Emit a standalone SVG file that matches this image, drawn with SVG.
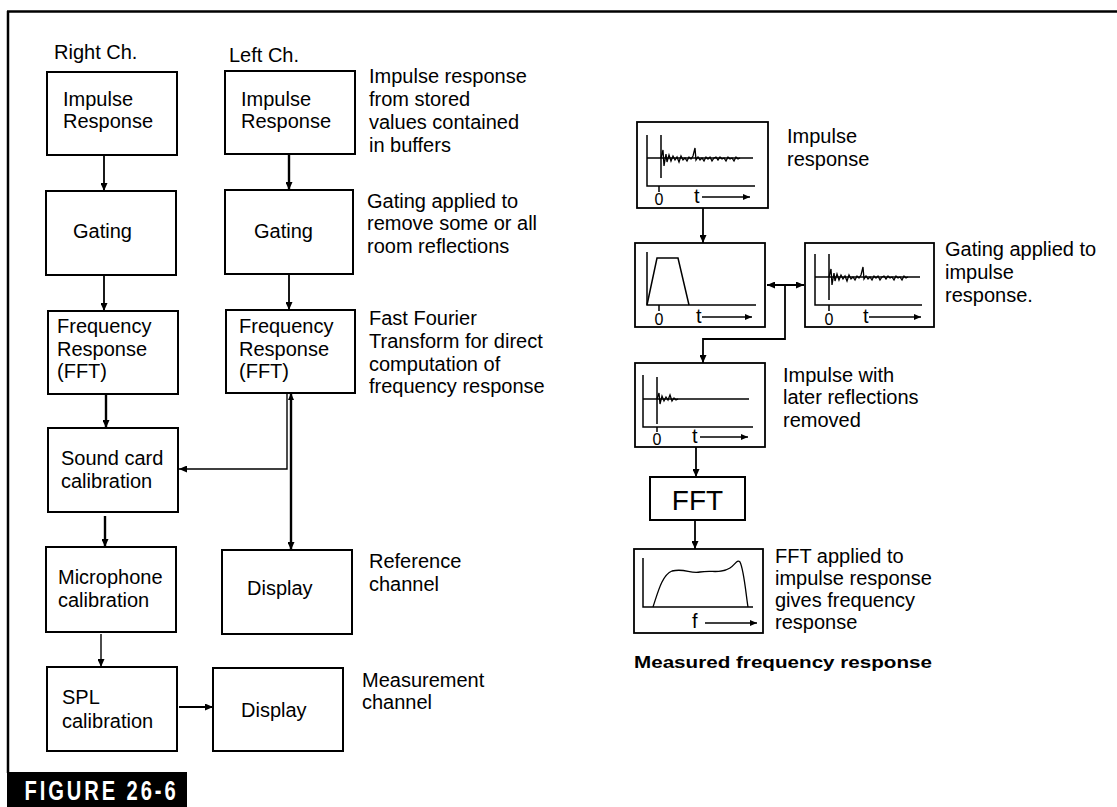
<svg xmlns="http://www.w3.org/2000/svg" width="1117" height="807" viewBox="0 0 1117 807">
<style>
text{font-family:"Liberation Sans",Arial,sans-serif;fill:#000}
.lbl{font-size:20px}
.box{fill:#fff;stroke:#000;stroke-width:2}
.gbox{fill:#fff;stroke:#000;stroke-width:1.8}
.ln{fill:none;stroke:#000;stroke-width:1.8}
.thk{fill:none;stroke:#000;stroke-width:2.4}
.thn{fill:none;stroke:#000;stroke-width:1.4}
.ax{fill:none;stroke:#000;stroke-width:1.5}
.sig{fill:none;stroke:#000;stroke-width:1.3}
.t{font-size:20px}
.zero{font-size:16px}
</style>
<defs>
<marker id="ah" viewBox="0 0 8 7" refX="8" refY="3.5" markerWidth="8" markerHeight="7" markerUnits="userSpaceOnUse" orient="auto-start-reverse">
<path d="M0,0 L8,3.5 L0,7 z" fill="#000"/>
</marker>
<marker id="sh" viewBox="0 0 7 6" refX="7" refY="3" markerWidth="7" markerHeight="6" markerUnits="userSpaceOnUse" orient="auto-start-reverse">
<path d="M0,0 L7,3 L0,6 z" fill="#000"/>
</marker>
</defs>

<!-- frame -->
<g id="frame">
<line x1="7" y1="11.5" x2="1117" y2="11.5" stroke="#000" stroke-width="2.5"/>
<line x1="8" y1="11" x2="8" y2="773" stroke="#000" stroke-width="2.5"/>
<rect x="7" y="772" width="180" height="35" fill="#000"/>
<text x="34" y="800" transform="scale(0.72,1)" font-size="28" font-weight="bold" fill="#fff" style="fill:#fff" textLength="210" lengthAdjust="spacing">FIGURE 26-6</text>
</g>

<!-- column headers -->
<text class="lbl" x="54" y="59">Right Ch.</text>
<text class="lbl" x="229" y="62">Left Ch.</text>

<!-- right channel nodes -->
<g id="r-impulse"><rect class="box" x="47" y="72" width="130" height="83"/><text class="lbl" x="63" y="106">Impulse</text><text class="lbl" x="63" y="128">Response</text></g>
<g id="r-gating"><rect class="box" x="46" y="191" width="130" height="84"/><text class="lbl" x="73" y="238">Gating</text></g>
<g id="r-freq"><rect class="box" x="48" y="311" width="130" height="83"/><text class="lbl" x="57" y="333">Frequency</text><text class="lbl" x="57" y="356">Response</text><text class="lbl" x="57" y="378">(FFT)</text></g>
<g id="r-soundcard"><rect class="box" x="48" y="428" width="130" height="84"/><text class="lbl" x="61" y="465">Sound card</text><text class="lbl" x="61" y="488">calibration</text></g>
<g id="r-mic"><rect class="box" x="46" y="547" width="130" height="85"/><text class="lbl" x="58" y="584">Microphone</text><text class="lbl" x="58" y="607">calibration</text></g>
<g id="r-spl"><rect class="box" x="47" y="667" width="130" height="84"/><text class="lbl" x="62" y="704">SPL</text><text class="lbl" x="62" y="728">calibration</text></g>
<g id="m-display"><rect class="box" x="213" y="668" width="130" height="83"/><text class="lbl" x="241" y="717">Display</text></g>

<!-- left channel nodes -->
<g id="l-impulse"><rect class="box" x="225" y="71" width="130" height="83"/><text class="lbl" x="241" y="106">Impulse</text><text class="lbl" x="241" y="128">Response</text></g>
<g id="l-gating"><rect class="box" x="225" y="190" width="128" height="84"/><text class="lbl" x="254" y="238">Gating</text></g>
<g id="l-freq"><rect class="box" x="226" y="310" width="129" height="83"/><text class="lbl" x="239" y="333">Frequency</text><text class="lbl" x="239" y="356">Response</text><text class="lbl" x="239" y="378">(FFT)</text></g>
<g id="l-display"><rect class="box" x="222" y="550" width="130" height="84"/><text class="lbl" x="247" y="595">Display</text></g>

<!-- annotations -->
<g id="notes">
<text class="lbl" x="369" y="83">Impulse response</text>
<text class="lbl" x="369" y="106">from stored</text>
<text class="lbl" x="369" y="129">values contained</text>
<text class="lbl" x="369" y="152">in buffers</text>
<text class="lbl" x="367" y="208">Gating applied to</text>
<text class="lbl" x="367" y="230">remove some or all</text>
<text class="lbl" x="367" y="253">room reflections</text>
<text class="lbl" x="369" y="325">Fast Fourier</text>
<text class="lbl" x="369" y="348">Transform for direct</text>
<text class="lbl" x="369" y="371">computation of</text>
<text class="lbl" x="369" y="393">frequency response</text>
<text class="lbl" x="369" y="568">Reference</text>
<text class="lbl" x="369" y="591">channel</text>
<text class="lbl" x="362" y="687">Measurement</text>
<text class="lbl" x="362" y="709">channel</text>
</g>

<!-- right panel graphs -->
<g id="g-impulse">
<rect class="gbox" x="637" y="122" width="131" height="86"/>
<polyline class="ax" points="647,135 647,186 755,186"/>
<line class="ax" x1="647" y1="158" x2="753" y2="158"/>
<line class="ax" x1="661" y1="135" x2="661" y2="178"/>
<polyline class="sig" points="661,158 663,150 664,166 666,154 667,162 669,155 671,161 673,156 675,160 677,157 679,162 681,156 683,160 685,158 687,161 689,157 691,159 693,156 695,148 696,160 698,157 700,160 702,158 704,161 706,157 708,159 710,157 712,161 714,158 716,157 718,160 720,157 722,159 724,158 726,161 728,157 730,159 732,158 734,161 736,157 738,159 740,158"/>
<line class="ax" x1="659" y1="186" x2="659" y2="192"/>
<text class="zero" x="659" y="205" text-anchor="middle">0</text>
<text class="t" x="694" y="203">t</text>
<line class="ax" x1="702" y1="197" x2="750" y2="197" marker-end="url(#sh)"/>
</g>
<text class="lbl" x="787" y="143">Impulse</text>
<text class="lbl" x="787" y="166">response</text>

<g id="g-gate">
<rect class="gbox" x="635" y="243" width="130" height="84"/>
<polyline class="ax" points="647,252 647,305 756,305"/>
<polyline class="ax" points="647,305 657,258 678,258 689,305"/>
<line class="ax" x1="659" y1="305" x2="659" y2="311"/>
<text class="zero" x="659" y="325" text-anchor="middle">0</text>
<text class="t" x="696" y="323">t</text>
<line class="ax" x1="702" y1="317" x2="752" y2="317" marker-end="url(#sh)"/>
</g>

<g id="g-gated">
<rect class="gbox" x="805" y="243" width="129" height="84"/>
<polyline class="ax" points="815,254 815,305 922,305"/>
<line class="ax" x1="815" y1="277" x2="920" y2="277"/>
<line class="ax" x1="829" y1="254" x2="829" y2="300"/>
<polyline class="sig" transform="translate(168,119)" points="661,158 663,150 664,166 666,154 667,162 669,155 671,161 673,156 675,160 677,157 679,162 681,156 683,160 685,158 687,161 689,157 691,159 693,156 695,148 696,160 698,157 700,160 702,158 704,161 706,157 708,159 710,157 712,161 714,158 716,157 718,160 720,157 722,159 724,158 726,161 728,157 730,159 732,158 734,161 736,157 738,159 740,158"/>
<line class="ax" x1="829" y1="305" x2="829" y2="311"/>
<text class="zero" x="829" y="325" text-anchor="middle">0</text>
<text class="t" x="863" y="323">t</text>
<line class="ax" x1="869" y1="317" x2="921" y2="317" marker-end="url(#sh)"/>
</g>
<text class="lbl" x="945" y="256">Gating applied to</text>
<text class="lbl" x="945" y="279">impulse</text>
<text class="lbl" x="945" y="302">response.</text>

<g id="g-removed">
<rect class="gbox" x="635" y="363" width="130" height="84"/>
<polyline class="ax" points="643,375 643,427 753,427"/>
<line class="ax" x1="643" y1="399" x2="749" y2="399"/>
<line class="ax" x1="657" y1="377" x2="657" y2="424"/>
<polyline class="sig" points="657,399 659,393 660,404 662,396 664,401 666,397 668,400 670,395 672,401 674,398 676,400 678,399"/>
<line class="ax" x1="657" y1="427" x2="657" y2="432"/>
<text class="zero" x="657" y="445" text-anchor="middle">0</text>
<text class="t" x="692" y="443">t</text>
<line class="ax" x1="700" y1="437" x2="748" y2="437" marker-end="url(#sh)"/>
</g>
<text class="lbl" x="783" y="382">Impulse with</text>
<text class="lbl" x="783" y="404">later reflections</text>
<text class="lbl" x="783" y="427">removed</text>

<g id="fft">
<rect class="box" x="650" y="477" width="95" height="43"/>
<text x="697.5" y="510" font-size="28" text-anchor="middle">FFT</text>
</g>

<g id="g-freq">
<rect class="gbox" x="634" y="549" width="129" height="84"/>
<polyline class="ax" points="643,558 643,607 753,607"/>
<path class="sig" d="M653,607 C658,592 662,575 672,571 C685,568 690,574 700,572 C712,570 720,574 730,568 C735,565 737,559 740,562 C744,570 746,595 748,607"/>
<text class="t" x="692" y="628">f</text>
<line class="ax" x1="705" y1="623" x2="757" y2="623" marker-end="url(#sh)"/>
</g>
<text class="lbl" x="775" y="563">FFT applied to</text>
<text class="lbl" x="775" y="585">impulse response</text>
<text class="lbl" x="775" y="607">gives frequency</text>
<text class="lbl" x="775" y="629">response</text>

<text x="634" y="668" font-size="17" font-weight="900" textLength="298" lengthAdjust="spacingAndGlyphs">Measured frequency response</text>

<!-- connectors -->
<g id="connectors">
<line class="ln" x1="104" y1="155" x2="104" y2="191" marker-end="url(#ah)"/>
<line class="ln" x1="104" y1="275" x2="104" y2="311" marker-end="url(#ah)"/>
<line class="thk" x1="106" y1="394" x2="106" y2="428" marker-end="url(#ah)"/>
<line class="thk" x1="105" y1="516" x2="105" y2="547" marker-end="url(#ah)"/>
<line class="thn" x1="101" y1="634" x2="101" y2="667" marker-end="url(#ah)"/>
<line class="ln" x1="179" y1="707" x2="213" y2="707" marker-end="url(#ah)"/>
<line class="thk" x1="289" y1="154" x2="289" y2="190" marker-end="url(#ah)"/>
<line class="ln" x1="289" y1="274" x2="289" y2="310" marker-end="url(#ah)"/>
<polyline class="thn" points="287,394 287,469 179,469" marker-end="url(#ah)"/>
<line class="thk" x1="291" y1="393" x2="291" y2="550" marker-start="url(#sh)" marker-end="url(#ah)"/>
<line class="ln" x1="703" y1="208" x2="703" y2="243" marker-end="url(#ah)"/>
<line class="ln" x1="767" y1="285" x2="804" y2="285" marker-start="url(#ah)" marker-end="url(#ah)"/>
<polyline class="ln" points="785,285 785,339 703,339 703,363" marker-end="url(#ah)"/>
<line class="ln" x1="696" y1="447" x2="696" y2="477" marker-end="url(#ah)"/>
<line class="ln" x1="695" y1="520" x2="695" y2="549" marker-end="url(#ah)"/>
</g>
</svg>
